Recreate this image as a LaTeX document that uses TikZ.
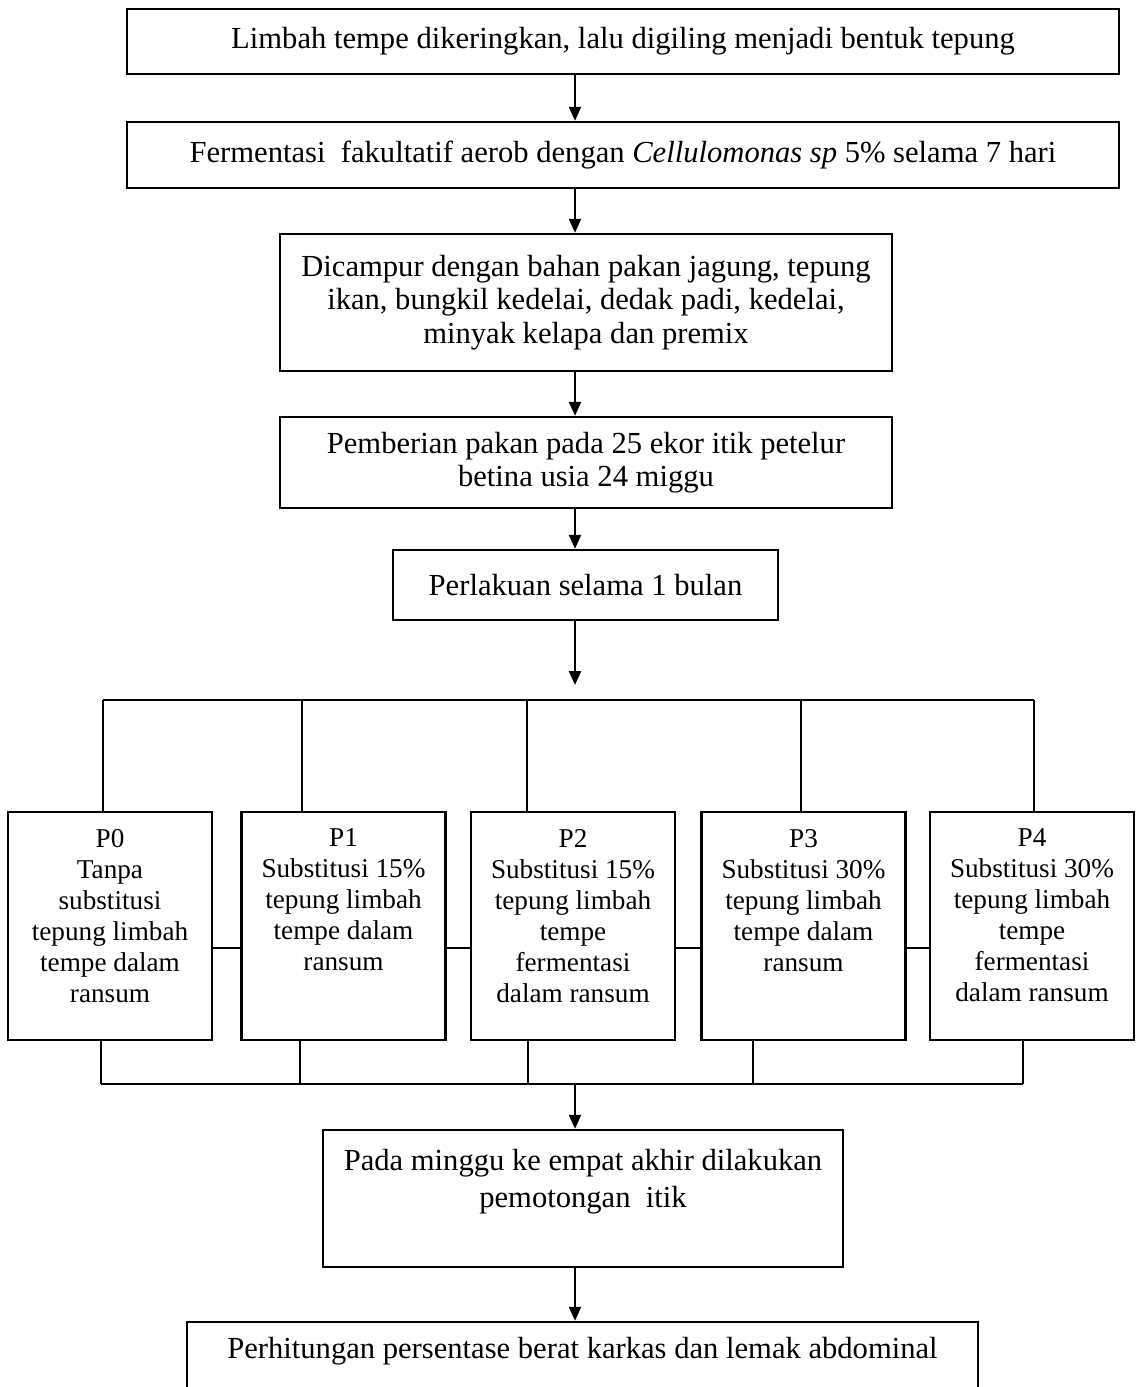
\documentclass[tikz,border=0pt]{standalone}
\usepackage{fontspec}
\setmainfont{Liberation Serif}
\usetikzlibrary{arrows.meta,positioning}
\newcommand{\toptxt}[4]{\parbox[c][#1][t]{#2}{\vspace*{#3}\centering #4}}

\begin{document}
\begin{tikzpicture}[x=1pt,y=-1pt,
    stage/.style={draw,line width=1.2pt,inner sep=0pt,align=center,
      font=\fontsize{15.3}{16.8}\selectfont},
    treat/.style={stage,font=\fontsize{13.6}{15.5}\selectfont},
    flow/.style={line width=1.2pt,-{Triangle[length=7pt,width=6pt]}},
    link/.style={line width=1.2pt}]
  \useasboundingbox (0,0) rectangle (568.5,693.5);
  \clip (0,0) rectangle (568.5,693.5);
  \coordinate (axis) at (287.5,0);
  % alur utama
  \node[stage,minimum width=496pt,minimum height=32.5pt] (limbah) at (311.5,20.75)
    {Limbah tempe dikeringkan, lalu digiling menjadi bentuk tepung};
  \node[stage,minimum width=496pt,minimum height=33pt] (fermen) at (311.5,77.5)
    {Fermentasi~ fakultatif aerob dengan \textit{Cellulomonas sp} 5\% selama 7 hari};
  \node[stage,minimum width=306pt,minimum height=68.5pt] (campur) at (293,151.25)
    {Dicampur dengan bahan pakan jagung, tepung\\ikan, bungkil kedelai, dedak padi, kedelai,\\minyak kelapa dan premix};
  \node[stage,minimum width=306pt,minimum height=45.5pt] (pakan) at (293,231.25)
    {Pemberian pakan pada 25 ekor itik petelur\\betina usia 24 miggu};
  \node[stage,minimum width=192.5pt,minimum height=35pt] (lakuan) at (292.75,292.5)
    {Perlakuan selama 1 bulan};
  \draw[flow] (limbah.south -| axis) -- (fermen.north -| axis);
  \draw[flow] (fermen.south -| axis) -- (campur.north -| axis);
  \draw[flow] (campur.south -| axis) -- (pakan.north -| axis);
  \draw[flow] (pakan.south -| axis) -- (lakuan.north -| axis);
  \coordinate (split) at (287.5,342.5);
  \draw[flow] (lakuan.south -| axis) -- (split);
  % perlakuan P0--P4
  \node[treat] (p0) at (55,463)
    {\toptxt{114pt}{102pt}{8.5pt}{P0\\Tanpa\\substitusi\\tepung limbah\\tempe dalam\\ransum}};
  \node[treat] (p1) at (171.75,463)
    {\toptxt{114pt}{102pt}{8.5pt}{P1\\Substitusi 15\%\\tepung limbah\\tempe dalam\\ransum}};
  \node[treat] (p2) at (286.5,463)
    {\toptxt{114pt}{102pt}{8.5pt}{P2\\Substitusi 15\%\\tepung limbah\\tempe\\fermentasi\\dalam ransum}};
  \node[treat] (p3) at (401.75,463)
    {\toptxt{114pt}{102pt}{8.5pt}{P3\\Substitusi 30\%\\tepung limbah\\tempe dalam\\ransum}};
  \node[treat] (p4) at (516,463)
    {\toptxt{114pt}{102pt}{8.5pt}{P4\\Substitusi 30\%\\tepung limbah\\tempe\\fermentasi\\dalam ransum}};
  \foreach \i/\x in {0/51.5,1/151,2/263.5,3/400.5,4/517}{
    \coordinate (t\i) at (\x,350);
    \draw[link] (t\i) -- (t\i |- p\i.north);
  }
  \draw[link] (t0) -- (t4);
  \foreach \a/\b in {p0/p1,p1/p2,p2/p3,p3/p4}
    \draw[link] ([yshift=-11pt]\a.east) -- ([yshift=-11pt]\b.west);
  \foreach \i/\x in {0/50.5,1/150,2/264,3/376.5,4/511.5}{
    \coordinate (u\i) at (\x,542);
    \draw[link] (u\i |- p\i.south) -- (u\i);
  }
  \draw[link] (u0) -- (u4);
  \coordinate (join) at (287.5,542);
  % pemotongan dan hasil
  \node[stage,font=\fontsize{15.3}{18.5}\selectfont] (potong) at (291.5,599.25)
    {\toptxt{68.5pt}{260pt}{9.6pt}{Pada minggu ke empat akhir dilakukan\\pemotongan~ itik}};
  \node[stage] (hitung) at (291.25,691)
    {\toptxt{60pt}{395.5pt}{7.6pt}{Perhitungan persentase berat karkas dan lemak abdominal}};
  \draw[flow] (join) -- (join |- potong.north);
  \draw[flow] (potong.south -| axis) -- (hitung.north -| axis);
\end{tikzpicture}
\end{document}
